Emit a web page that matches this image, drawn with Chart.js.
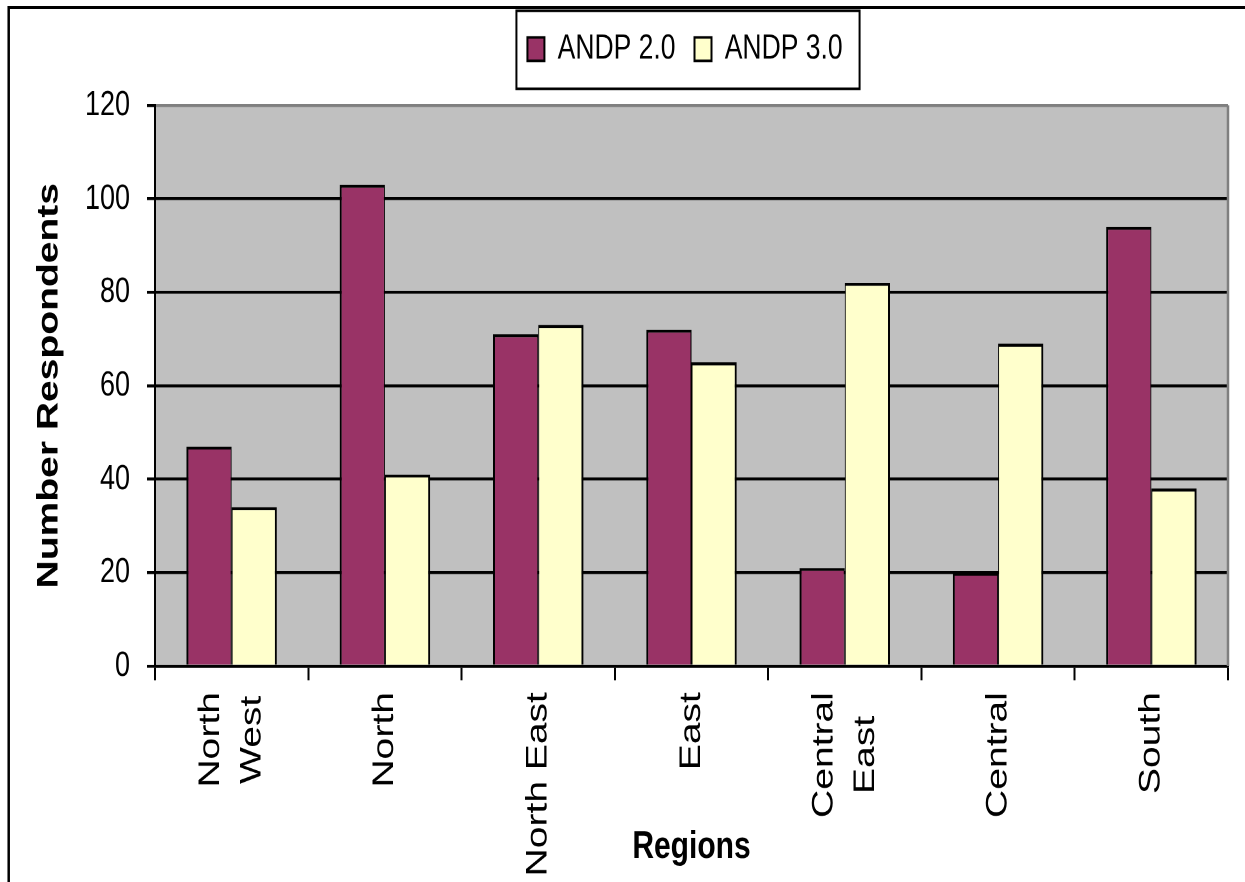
<!DOCTYPE html>
<html>
<head>
<meta charset="utf-8">
<script src="https://cdn.jsdelivr.net/npm/chart.js@4/dist/chart.umd.min.js"></script>
<style>
  html, body { margin: 0; padding: 0; background: #fff; overflow: hidden; }
  #wrap { position: absolute; left: 0; top: 0; width: 1245px; height: 678px;
          transform: scaleY(1.3009); transform-origin: 0 0; }
</style>
</head>
<body>
<div id="wrap"><canvas id="chart" width="1245" height="678"></canvas></div>
<script>
// Regions (wrapped labels are given as arrays of lines)
const regions = [['North', 'West'], 'North', 'North East', 'East', ['Central', 'East'], 'Central', 'South'];
// Number of respondents per region
const andp20 = [47, 103, 71, 72, 21, 20, 94];
const andp30 = [34, 41, 73, 65, 82, 69, 38];
// Value axis ticks
const yTicks = [0, 20, 40, 60, 80, 100, 120];

const FONT = '"Liberation Sans", Arial, Helvetica, sans-serif';

// Outer frame and grey plot background
const framePlugin = {
  id: 'frame',
  beforeDraw(chart) {
    const { ctx, chartArea: a } = chart;
    ctx.save();
    ctx.fillStyle = '#C0C0C0';
    ctx.fillRect(a.left, a.top, a.right - a.left, a.bottom - a.top);
    ctx.strokeStyle = '#000';
    ctx.lineWidth = 2.5;
    ctx.beginPath();
    ctx.moveTo(8.7, chart.height + 5);
    ctx.lineTo(8.7, 5.8);
    ctx.lineTo(chart.width + 5, 5.8);
    ctx.stroke();
    ctx.restore();
  },
  beforeDatasetsDraw(chart) {
    const { ctx, chartArea: a } = chart;
    ctx.save();
    ctx.strokeStyle = '#7f7f7f';
    ctx.lineWidth = 2.5;
    ctx.beginPath();
    ctx.moveTo(a.right, a.top);
    ctx.lineTo(a.right, a.bottom);
    ctx.stroke();
    ctx.restore();
  }
};

// Legend placed above the plot, centred over it, with a boxed outline
const legendBoxPlugin = {
  id: 'legendBox',
  afterLayout(chart) {
    const lg = chart.legend;
    if (!lg) return;
    const dx = 685 - (lg.left + lg.right) / 2;
    const dy = 5.5 - lg.top;
    lg.left += dx; lg.right += dx;
    lg.top += dy; lg.bottom += dy;
  },
  afterDraw(chart) {
    const lg = chart.legend;
    if (!lg || !lg.lineWidths) return;
    const pad = lg.options.labels.padding;
    const fs = lg.options.labels.font.size;
    const cx = (lg.left + lg.right) / 2;
    const w = lg.lineWidths[0] - pad;
    const cy = lg.top + pad + fs / 2;
    const { ctx } = chart;
    ctx.save();
    ctx.strokeStyle = '#000';
    ctx.lineWidth = 2;
    ctx.strokeRect(cx - w / 2 - 11, cy - 29.5, w + 28, 60);
    ctx.restore();
  }
};

// Category labels, rotated, with wrapped lines side by side
const xLabelPlugin = {
  id: 'xLabels',
  afterDraw(chart) {
    const sc = chart.scales.x;
    const { ctx } = chart;
    const lineGap = 41.5;
    const start = sc.top + 11 + 9;
    ctx.save();
    ctx.font = '30px ' + FONT;
    ctx.fillStyle = '#000';
    ctx.textAlign = 'center';
    ctx.textBaseline = 'middle';
    regions.forEach((lab, i) => {
      const lines = Array.isArray(lab) ? lab : [lab];
      const longest = Math.max(...lines.map(l => ctx.measureText(l).width));
      const cx = sc.getPixelForValue(i);
      const cy = start + longest / 2;
      lines.forEach((ln, j) => {
        const x = cx + (j - (lines.length - 1) / 2) * lineGap;
        ctx.save();
        ctx.translate(x, cy);
        ctx.rotate(-Math.PI / 2);
        ctx.fillText(ln, 0, 0);
        ctx.restore();
      });
    });
    ctx.restore();
  }
};

new Chart(document.getElementById('chart'), {
  type: 'bar',
  data: {
    labels: regions,
    datasets: [
      {
        label: 'ANDP 2.0',
        data: andp20,
        backgroundColor: '#993366',
        borderColor: '#000',
        borderWidth: { top: 2.3, left: 2, right: 1, bottom: 0 },
        categoryPercentage: 0.59,
        barPercentage: 1.0
      },
      {
        label: 'ANDP 3.0',
        data: andp30,
        backgroundColor: '#FFFFCC',
        borderColor: '#000',
        borderWidth: { top: 2.3, left: 1, right: 2, bottom: 0 },
        categoryPercentage: 0.59,
        barPercentage: 1.0
      }
    ]
  },
  options: {
    responsive: false,
    animation: false,
    devicePixelRatio: 2,
    layout: { padding: { left: 0, right: 17, top: 25.5, bottom: 0 } },
    plugins: {
      tooltip: { enabled: false },
      legend: {
        position: 'top',
        labels: {
          boxWidth: 17,
          boxHeight: 18,
          padding: 19,
          color: '#000',
          font: { family: FONT, size: 26.5 },
          generateLabels(chart) {
            const items = Chart.defaults.plugins.legend.labels.generateLabels(chart);
            items.forEach(it => { it.lineWidth = 2; it.strokeStyle = '#000'; });
            return items;
          }
        }
      }
    },
    scales: {
      x: {
        grid: {
          offset: true,
          drawOnChartArea: false,
          color: '#000',
          lineWidth: 2,
          tickLength: 11
        },
        border: { color: '#000', width: 2.3 },
        ticks: { display: false },
        title: {
          display: true,
          text: 'Regions',
          color: '#000',
          font: { family: FONT, size: 30, weight: 'bold' },
          padding: { top: 0, bottom: 9 }
        },
        afterFit(scale) { scale.height = 166; }
      },
      y: {
        min: 0,
        max: 120,
        afterBuildTicks(scale) { scale.ticks = yTicks.map(v => ({ value: v })); },
        ticks: {
          color: '#000',
          padding: 17,
          font: { family: FONT, size: 27 }
        },
        grid: {
          color: c => (c.tick && c.tick.value === 120) ? '#7f7f7f' : '#000',
          tickColor: '#000',
          lineWidth: 2.3,
          tickLength: 8
        },
        border: { color: '#000', width: 2 },
        title: {
          display: true,
          text: 'Number Respondents',
          color: '#000',
          font: { family: FONT, size: 30, weight: 'bold' },
          padding: { top: 31, bottom: 0 }
        },
        afterFit(scale) { scale.width = 155; }
      }
    }
  },
  plugins: [framePlugin, legendBoxPlugin, xLabelPlugin]
});
</script>
</body>
</html>
